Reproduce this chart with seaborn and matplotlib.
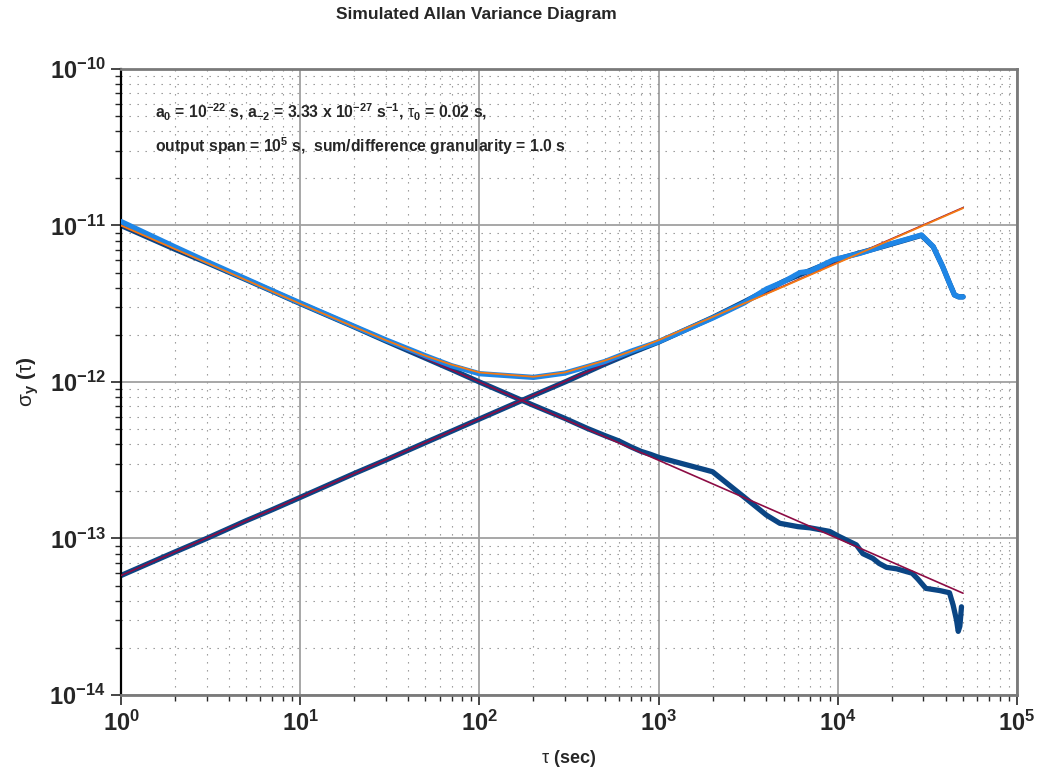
import matplotlib
matplotlib.use("Agg")
import matplotlib.pyplot as plt
import matplotlib.ticker as mticker
import numpy as np
import seaborn as sns

# theoretical straight lines (white FM and random walk FM)
tau_white_fit = [1, 5e4]
sig_white_fit = [1.0e-11, 4.47e-14]
tau_rw_fit = [1, 5e4]
sig_rw_fit = [5.8e-14, 1.3e-11]

# theoretical sum of both noise types
tau_sum_fit = [1, 2, 3, 5, 7, 10, 20, 30, 50, 70, 100, 200, 300, 500, 700,
               1000, 2000, 5000, 1e4, 2e4, 5e4]
sig_sum_fit = [1.0e-11, 7.07e-12, 5.78e-12, 4.47e-12, 3.78e-12, 3.16e-12,
               2.25e-12, 1.85e-12, 1.47e-12, 1.29e-12, 1.15e-12, 1.08e-12,
               1.15e-12, 1.37e-12, 1.57e-12, 1.85e-12, 2.6e-12, 4.08e-12,
               5.77e-12, 8.16e-12, 1.29e-11]

# simulated white FM
tau_white_sim = [1, 2, 3, 5, 7, 10, 20, 30, 50, 70, 100, 200, 300, 400, 500,
                 600, 700, 800, 900, 1000, 2000, 3000, 4000, 4750, 6000, 7000,
                 9000, 1e4, 1.27e4, 1.38e4, 1.57e4, 1.7e4, 1.87e4, 2.13e4,
                 2.6e4, 2.8e4, 3.1e4, 3.7e4, 4.2e4, 4.4e4, 4.6e4, 4.7e4,
                 4.8e4, 4.9e4]
sig_white_sim = [1.0e-11, 7.05e-12, 5.8e-12, 4.5e-12, 3.8e-12, 3.17e-12,
                 2.25e-12, 1.83e-12, 1.42e-12, 1.2e-12, 1.0e-12, 7.1e-13,
                 5.85e-13, 5.05e-13, 4.55e-13, 4.2e-13, 3.85e-13, 3.6e-13,
                 3.45e-13, 3.3e-13, 2.67e-13, 1.84e-13, 1.41e-13, 1.25e-13,
                 1.19e-13, 1.17e-13, 1.11e-13, 1.04e-13, 9.1e-14, 8.0e-14,
                 7.46e-14, 6.93e-14, 6.54e-14, 6.4e-14, 6.0e-14, 5.5e-14,
                 4.8e-14, 4.65e-14, 4.5e-14, 3.76e-14, 3.0e-14, 2.55e-14,
                 2.75e-14, 3.66e-14]

# simulated random walk FM (upper part lies under the simulated sum)
tau_rw_sim = [1, 2, 3, 5, 7, 10, 20, 30, 50, 70, 100, 200, 300, 500, 700,
              1000, 2000, 3000, 5000, 1e4, 1.87e4, 2.93e4, 3.41e4, 3.85e4,
              4.2e4, 4.48e4, 4.73e4, 5e4]
sig_rw_sim = [5.8e-14, 8.2e-14, 1.0e-13, 1.3e-13, 1.53e-13, 1.83e-13,
              2.6e-13, 3.17e-13, 4.1e-13, 4.85e-13, 5.8e-13, 8.2e-13,
              1.0e-12, 1.3e-12, 1.53e-12, 1.8e-12, 2.58e-12, 3.25e-12,
              4.4e-12, 6.1e-12, 7.45e-12, 8.65e-12, 7.3e-12, 5.45e-12,
              4.28e-12, 3.6e-12, 3.5e-12, 3.5e-12]

# simulated sum
tau_sum_sim = [1, 2, 3, 5, 7, 10, 20, 30, 50, 70, 100, 200, 300, 500, 700,
               1000, 2000, 3000, 4000, 5000, 6150, 7000, 9440, 1.33e4, 1.87e4,
               2.53e4, 2.93e4, 3.41e4, 3.85e4, 4.2e4, 4.48e4, 4.73e4, 5e4]
sig_sum_sim = [1.06e-11, 7.3e-12, 5.9e-12, 4.55e-12, 3.83e-12, 3.2e-12,
               2.27e-12, 1.86e-12, 1.47e-12, 1.27e-12, 1.13e-12, 1.07e-12,
               1.14e-12, 1.35e-12, 1.57e-12, 1.81e-12, 2.56e-12, 3.2e-12,
               3.93e-12, 4.38e-12, 5.0e-12, 5.1e-12, 6.03e-12, 6.64e-12,
               7.5e-12, 8.28e-12, 8.7e-12, 7.33e-12, 5.46e-12, 4.28e-12,
               3.6e-12, 3.5e-12, 3.5e-12]

# axis ticks
x_ticks = [1, 10, 100, 1e3, 1e4, 1e5]
y_ticks = [1e-14, 1e-13, 1e-12, 1e-11, 1e-10]

NAVY = "#0a4584"
LIGHT = "#1f86e6"
ORANGE = "#f57a12"
MAROON = "#8c0c44"

sns.set_style("white")
plt.rcParams["font.family"] = ["Liberation Sans", "DejaVu Sans"]
plt.rcParams["mathtext.fontset"] = "custom"
plt.rcParams["mathtext.rm"] = "Liberation Sans"
plt.rcParams["mathtext.it"] = "Liberation Sans:italic"
plt.rcParams["mathtext.bf"] = "Liberation Sans:bold"
plt.rcParams["axes.unicode_minus"] = False

fig = plt.figure(figsize=(10.37, 7.76), dpi=100)
ax = fig.add_axes([0.1167, 0.1044, 0.864, 0.8067])
ax.set_xscale("log")
ax.set_yscale("log")

kw = dict(ax=ax, estimator=None, legend=False)
sns.lineplot(x=tau_white_sim, y=sig_white_sim, color=NAVY, lw=3.8, zorder=2, **kw)
sns.lineplot(x=tau_rw_sim, y=sig_rw_sim, color=NAVY, lw=3.8, zorder=2, **kw)
sns.lineplot(x=tau_white_fit, y=sig_white_fit, color=MAROON, lw=1.2, zorder=3, **kw)
sns.lineplot(x=tau_rw_fit, y=sig_rw_fit, color=MAROON, lw=1.2, zorder=3, **kw)
sns.lineplot(x=tau_sum_sim, y=sig_sum_sim, color=LIGHT, lw=3.8, zorder=4, **kw)
sns.lineplot(x=tau_sum_fit, y=sig_sum_fit, color=ORANGE, lw=1.3, zorder=5, **kw)

ax.set_xlim(x_ticks[0], x_ticks[-1])
ax.set_ylim(y_ticks[0], y_ticks[-1])


def pow_label(v, pos):
    return r"$\mathbf{10^{%d}}$" % int(round(np.log10(v)))


for axis, ticks in ((ax.xaxis, x_ticks), (ax.yaxis, y_ticks)):
    axis.set_major_locator(mticker.FixedLocator(ticks))
    axis.set_major_formatter(mticker.FuncFormatter(pow_label))
    minors = [t * k for t in ticks[:-1] for k in range(2, 10)]
    axis.set_minor_locator(mticker.FixedLocator(minors))
    axis.set_minor_formatter(mticker.NullFormatter())

ax.set_axisbelow(True)
ax.grid(which="major", color="#a0a0a0", lw=1.3, ls="-")
ax.grid(which="minor", color="#8c8c8c", lw=0.8, ls=(0, (1.2, 6)))

ax.tick_params(which="major", direction="out", length=7, width=1.2,
               labelsize=17, left=True, bottom=True, pad=4)
ax.tick_params(which="minor", direction="out", length=4, width=1,
               left=True, bottom=True)

ax.spines["left"].set_color("black")
ax.spines["left"].set_linewidth(1.6)
for s in ("bottom", "top", "right"):
    ax.spines[s].set_color("#7a7a7a")
    ax.spines[s].set_linewidth(2)

ax.set_xlabel(r"$\mathrm{\tau}$ (sec)", fontsize=13, weight="bold", labelpad=9)
ax.set_ylabel(r"$\mathrm{\sigma}_\mathbf{y}$ $\mathbf{(}\mathrm{\tau}\mathbf{)}$",
              fontsize=15, weight="bold", labelpad=6)

fig.text(476 / 1037, 1 - 15 / 776, "Simulated Allan Variance Diagram",
         ha="center", va="center", fontsize=12.5, weight="bold")

ax.text(0.038, 0.93,
        r"a$_\mathbf{0}$ = 10$^\mathbf{-22}$ s, a$_\mathbf{-2}$ = 3.33 x 10$^\mathbf{-27}$ s$^\mathbf{-1}$, $\mathrm{\tau}_\mathbf{0}$ = 0.02 s,",
        transform=ax.transAxes, fontsize=11.3, weight="bold", va="center")
ax.text(0.038, 0.877,
        r"output span = 10$^\mathbf{5}$ s,  sum/difference granularity = 1.0 s",
        transform=ax.transAxes, fontsize=11.3, weight="bold", va="center")

fig.savefig("out.png", dpi=100)
